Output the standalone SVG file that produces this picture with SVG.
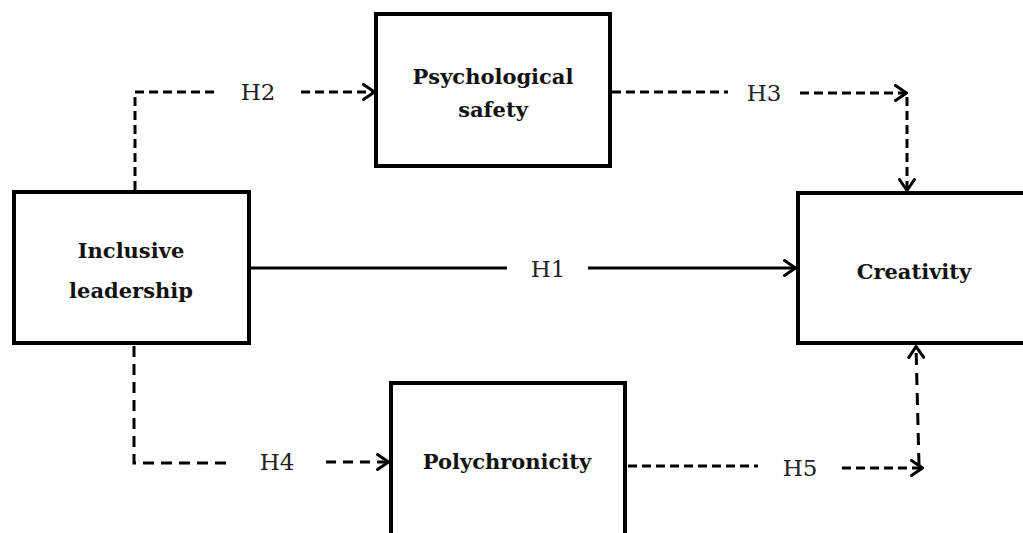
<svg xmlns="http://www.w3.org/2000/svg" width="1023" height="533" viewBox="0 0 1023 533">
<style>
.box{fill:#fff;stroke:#000;stroke-width:4}
.lbl{font-family:"DejaVu Serif","Liberation Serif",serif;font-weight:bold;font-size:21px;fill:#111;text-anchor:middle}
.h{font-family:"DejaVu Serif","Liberation Serif",serif;font-size:23px;fill:#222;text-anchor:middle}
.dash{fill:none;stroke:#000;stroke-width:3;stroke-dasharray:9 5}
.solid{fill:none;stroke:#000;stroke-width:3}
</style>
<defs>
<marker id="arr" viewBox="0 0 14 18" refX="13" refY="9" markerWidth="14" markerHeight="18" markerUnits="userSpaceOnUse" orient="auto">
<path d="M1.5,1.5 L12.5,9 L1.5,16.5" fill="none" stroke="#000" stroke-width="3" stroke-linecap="round" stroke-linejoin="round"/>
</marker>
</defs>
<rect width="1023" height="533" fill="#fff"/>
<g id="connectors">
<path class="dash" d="M135,190 V92 H216"/>
<path class="dash" d="M301,92 H375" marker-end="url(#arr)"/>
<path class="dash" d="M612,92 H728"/>
<path class="dash" d="M800,93 H907" marker-end="url(#arr)"/>
<path class="dash" d="M907,97 V191" marker-end="url(#arr)"/>
<path class="solid" d="M251,268 H507"/>
<path class="solid" d="M588,268 H796" marker-end="url(#arr)"/>
<path class="dash" d="M134,346 V463 H233" style="stroke-dasharray:11 7"/>
<path class="dash" d="M326,462 H389" marker-end="url(#arr)" style="stroke-dasharray:10 7"/>
<path class="dash" d="M628,466 H758"/>
<path class="dash" d="M842,468 H923" marker-end="url(#arr)"/>
<path class="dash" d="M919,465 L916,346" marker-end="url(#arr)" style="stroke-dasharray:12 8"/>
<text class="h" x="258" y="100">H2</text>
<text class="h" x="764" y="101">H3</text>
<text class="h" x="548" y="277">H1</text>
<text class="h" x="277" y="470">H4</text>
<text class="h" x="800" y="476">H5</text>
</g>
<g id="inclusive">
<rect class="box" x="14" y="192" width="235" height="151"/>
<text class="lbl" x="131" y="258">Inclusive</text>
<text class="lbl" x="131" y="298">leadership</text>
</g>
<g id="psych">
<rect class="box" x="376" y="14" width="234" height="152"/>
<text class="lbl" x="493" y="84">Psychological</text>
<text class="lbl" x="493" y="117">safety</text>
</g>
<g id="creativity">
<rect class="box" x="798" y="193" width="235" height="150"/>
<text class="lbl" x="914" y="279">Creativity</text>
</g>
<g id="poly">
<rect class="box" x="391" y="383" width="234" height="160"/>
<text class="lbl" x="507" y="469">Polychronicity</text>
</g>
</svg>
